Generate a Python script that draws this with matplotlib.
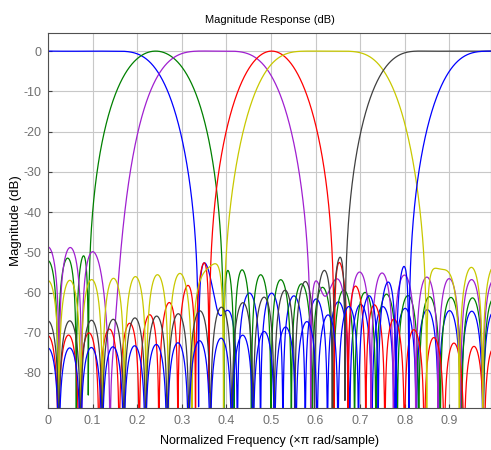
import numpy as np
import matplotlib.pyplot as plt

plt.rcParams['font.family'] = ['Liberation Sans', 'DejaVu Sans']
plt.rcParams['axes.unicode_minus'] = False

# 41-tap window-method filter bank, cutoffs in units of pi rad/sample
num_taps = 41
band_lo = [0.0, 0.172, 0.247, 0.447, 0.483, 0.745, 0.894]
band_hi = [0.251, 0.311, 0.50, 0.556, 0.759, 1.0, 1.0]
# window per filter: None -> Hamming, number -> Kaiser beta
kaiser_beta = [None, 5.0, None, 5.1, None, 4.7, 5.1]
line_colors = ['#0000ff', '#008000', '#a020d0', '#ff0000', '#c8c800', '#404040', '#0000ff']

x_ticks = [0, 0.1, 0.2, 0.3, 0.4, 0.5, 0.6, 0.7, 0.8, 0.9]
y_ticks = [0, -10, -20, -30, -40, -50, -60, -70, -80]


def design(f1, f2, beta):
    n = np.arange(num_taps) - (num_taps - 1) / 2
    h = f2 * np.sinc(f2 * n) - f1 * np.sinc(f1 * n)
    if beta is None:
        h = h * np.hamming(num_taps)
    else:
        h = h * np.kaiser(num_taps, beta)
    if f1 == 0:
        fc = 0.0
    elif f2 == 1.0:
        fc = 1.0
    else:
        fc = (f1 + f2) / 2
    g = np.abs(np.sum(h * np.exp(-1j * np.pi * fc * n)))
    return h / g


nfft = 8192
freq = np.arange(nfft // 2) / (nfft // 2)

fig = plt.figure(figsize=(4.91, 4.5), dpi=100)
ax = fig.add_axes([48 / 491, 42 / 450, 443 / 491, 375 / 450])

for f1, f2, beta, c in zip(band_lo, band_hi, kaiser_beta, line_colors):
    h = design(f1, f2, beta)
    H = np.fft.fft(h, nfft)[:nfft // 2]
    mag = 20 * np.log10(np.maximum(np.abs(H), 1e-12))
    ax.plot(freq, mag, color=c, lw=0.9)

ax.set_xlim(0, 443 / 446)
ax.set_ylim(-88.7, 4.5)
ax.set_xticks(x_ticks)
ax.set_xticklabels([('%g' % t) for t in x_ticks])
ax.set_yticks(y_ticks)
ax.grid(True, color='#c8c8c8', lw=0.8)
ax.tick_params(direction='in', length=3, pad=5, labelsize=9, colors='#404040', labelcolor='#707070')
for s in ax.spines.values():
    s.set_color('#505050')
ax.set_title('Magnitude Response (dB)', fontsize=8, pad=7)
ax.set_xlabel('Normalized Frequency (\u00d7\u03c0 rad/sample)', fontsize=9, labelpad=6)
ax.set_ylabel('Magnitude (dB)', fontsize=9.5, labelpad=1)

fig.savefig('out.png', dpi=100)
